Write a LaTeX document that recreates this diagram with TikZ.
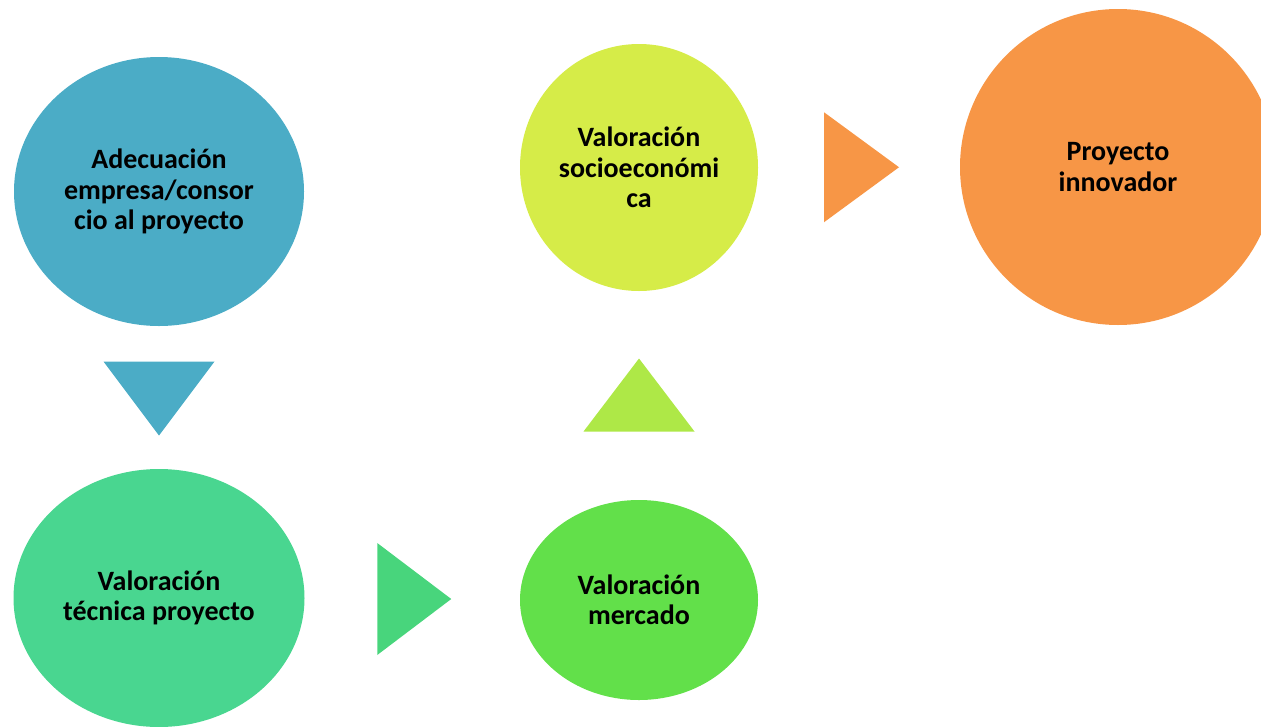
\documentclass[tikz,border=0pt]{standalone}
\usepackage{fontspec}
\setmainfont{Carlito}
\usetikzlibrary{shapes.geometric,calc}
\definecolor{adecblue}{HTML}{4BACC6}
\definecolor{tecgreen}{HTML}{49D690}
\definecolor{mercgreen}{HTML}{62E04A}
\definecolor{socioyellow}{HTML}{D6EC48}
\definecolor{upgreen}{HTML}{AEE847}
\definecolor{tecarrow}{HTML}{48D57C}
\definecolor{innovorange}{HTML}{F79646}
\begin{document}
\begin{tikzpicture}[x=1pt,y=-1pt,
  stage/.style={ellipse,inner sep=0pt,align=center,font=\fontsize{28}{30.5}\selectfont\bfseries}]
\useasboundingbox (0,0) rectangle (1261,726);
\clip (0,0) rectangle (1261,726);
\node [stage,fill=adecblue,minimum width=290pt,minimum height=269pt] (adec) at (159,191.5) {Adecuación\\empresa/consor\\cio al proyecto};
\node [stage,fill=tecgreen,minimum width=291pt,minimum height=258pt] (tecn) at (159,598) {Valoración\\técnica proyecto};
\node [stage,fill=mercgreen,minimum width=238pt,minimum height=200pt] (merc) at (639,600) {Valoración\\mercado};
\node [stage,fill=socioyellow,minimum width=238pt,minimum height=247pt] (socio) at (639,167.5) {Valoración\\socioeconómi\\ca};
\node [stage,fill=innovorange,minimum width=316pt,minimum height=316pt] (innov) at (1118,167) {Proyecto\\innovador};
\fill [adecblue] ($(adec.south)!0.5!(tecn.north)$) ++(-55.5,-36) -- ++(111,0) -- ++(-55.5,74) -- cycle;
\fill [tecarrow] ($(tecn.east)!0.5!(merc.west)$) ++(-35,-56) -- ++(74,56) -- ++(-74,56) -- cycle;
\fill [upgreen] ($(merc.north)!0.5!(socio.south)$) ++(-55.5,36) -- ++(111,0) -- ++(-55.5,-73) -- cycle;
\fill [innovorange] ($(socio.east)!0.5!(innov.west)$) ++(-35,-55) -- ++(75,55) -- ++(-75,55) -- cycle;
\end{tikzpicture}
\end{document}
